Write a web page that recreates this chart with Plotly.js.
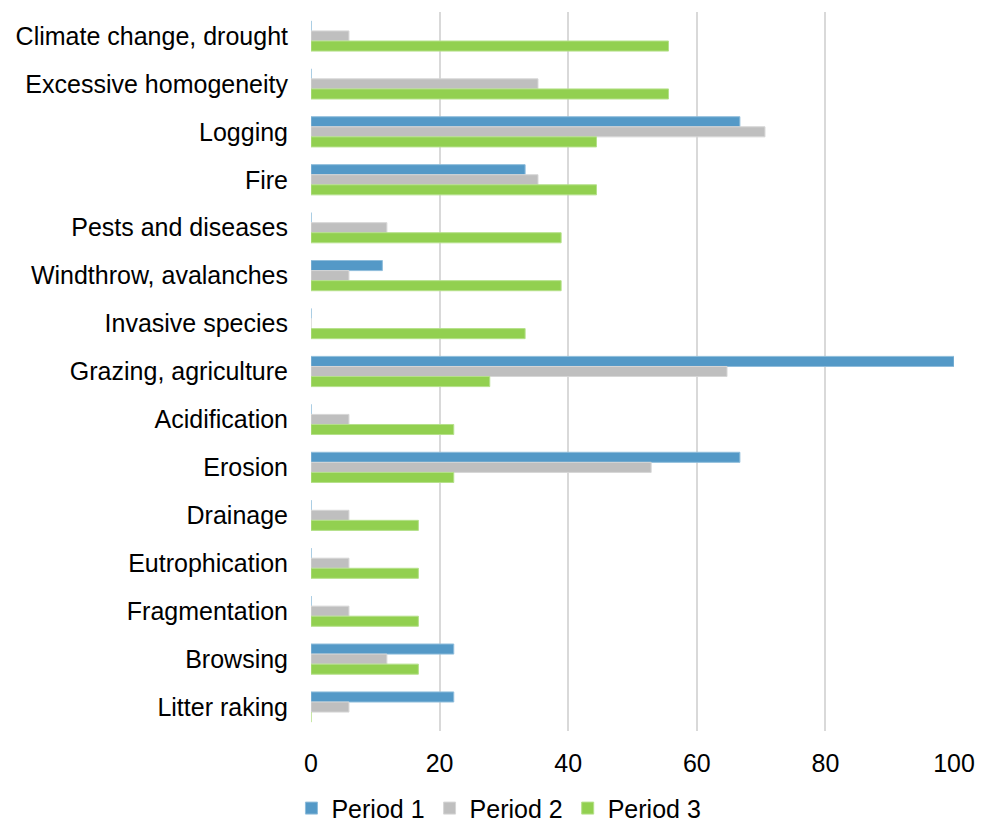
<!DOCTYPE html>
<html>
<head>
<meta charset="utf-8">
<script src="https://cdn.plot.ly/plotly-3.0.1.min.js"></script>
<style>html,body{margin:0;padding:0;background:#fff;}#chart{width:988px;height:824px;}</style>
</head>
<body>
<div id="chart"></div>
<script>
const categories = [
  "Climate change, drought",
  "Excessive homogeneity",
  "Logging",
  "Fire",
  "Pests and diseases",
  "Windthrow, avalanches",
  "Invasive species",
  "Grazing, agriculture",
  "Acidification",
  "Erosion",
  "Drainage",
  "Eutrophication",
  "Fragmentation",
  "Browsing",
  "Litter raking"
];
const period1 = [0, 0, 66.7, 33.3, 0, 11.1, 0, 100, 0, 66.7, 0, 0, 0, 22.2, 22.2];
const period2 = [5.9, 35.3, 70.6, 35.3, 11.8, 5.9, 0, 64.7, 5.9, 52.9, 5.9, 5.9, 5.9, 11.8, 5.9];
const period3 = [55.6, 55.6, 44.4, 44.4, 38.9, 38.9, 33.3, 27.8, 22.2, 22.2, 16.7, 16.7, 16.7, 16.7, 0];
const seriesNames = ["Period 1", "Period 2", "Period 3"];
const xTicks = [0, 20, 40, 60, 80, 100];

const colors = ["#5499c7", "#bfbfbf", "#92d050"];
const edge = ["#8fbddb", "#d6d6d6", "#b5e08a"];
const vals = [period1, period2, period3];

const data = vals.map((v, i) => ({
  type: "bar",
  orientation: "h",
  name: seriesNames[i],
  y: categories,
  x: v,
  marker: {color: colors[i], line: {color: edge[i], width: 1}},
  hoverinfo: "x+y"
}));

const layout = {
  width: 988,
  height: 824,
  margin: {l: 311, r: 34, t: 12, b: 93, autoexpand: false},
  paper_bgcolor: "#ffffff",
  plot_bgcolor: "#ffffff",
  font: {family: "Liberation Sans, Arial, Helvetica, sans-serif", size: 25, color: "#000000"},
  barmode: "group",
  bargap: 0.37,
  bargroupgap: 0,
  xaxis: {
    range: [0, 100],
    tickvals: xTicks,
    ticktext: xTicks.map(String),
    showgrid: true,
    gridcolor: "#d9d9d9",
    gridwidth: 2,
    zeroline: false,
    showline: false,
    ticks: "",
    ticklabelstandoff: 15,
    tickfont: {size: 25, color: "#000"}
  },
  yaxis: {
    type: "category",
    autorange: "reversed",
    showgrid: false,
    zeroline: false,
    showline: false,
    ticks: "",
    ticklabelstandoff: 22,
    tickfont: {size: 25, color: "#000"}
  },
  legend: {
    orientation: "h",
    xref: "container",
    yref: "container",
    x: 0.505,
    xanchor: "center",
    y: 0.019,
    yanchor: "middle",
    font: {size: 25},
    traceorder: "normal",
    itemwidth: 30
  },
  showlegend: true
};

Plotly.newPlot("chart", data, layout, {displayModeBar: false, staticPlot: true});
</script>
</body>
</html>
